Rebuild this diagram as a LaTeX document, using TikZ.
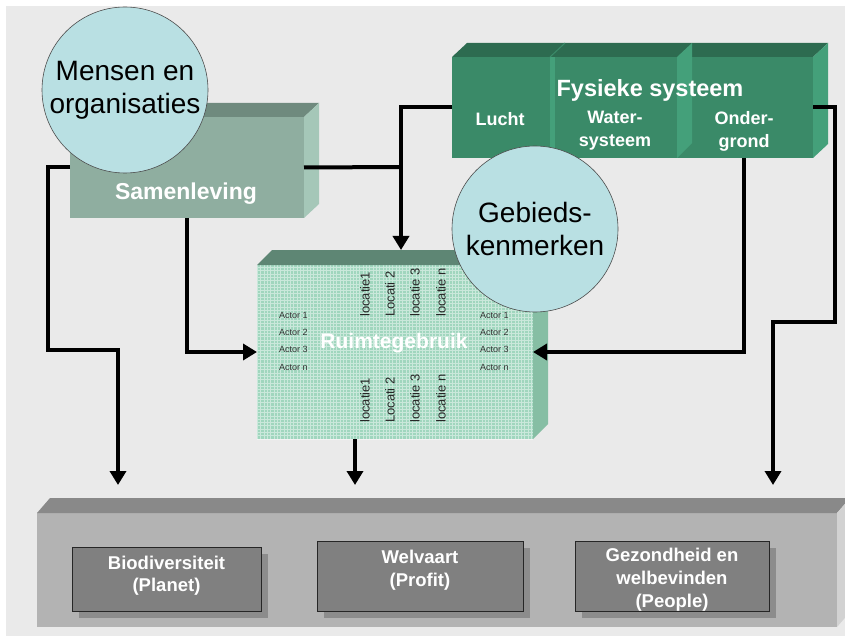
\documentclass[tikz,border=0pt]{standalone}
\usepackage{fontspec}
\setmainfont{Liberation Sans}
\usetikzlibrary{arrows.meta}
\definecolor{bgc}{RGB}{234,234,234}
\definecolor{samfront}{RGB}{143,174,160}
\definecolor{samtop}{RGB}{111,138,126}
\definecolor{samside}{RGB}{165,199,184}
\definecolor{fysfront}{RGB}{58,138,104}
\definecolor{fystop}{RGB}{45,107,80}
\definecolor{fysside}{RGB}{68,160,122}
\definecolor{rgfront}{RGB}{160,214,190}
\definecolor{rgtopc}{RGB}{94,134,116}
\definecolor{rgside}{RGB}{134,190,164}
\definecolor{panfront}{RGB}{179,179,179}
\definecolor{pantop}{RGB}{137,137,137}
\definecolor{panside}{RGB}{210,210,210}
\definecolor{boxfill}{RGB}{128,128,128}
\definecolor{boxshadow}{RGB}{140,140,140}
\definecolor{circfill}{RGB}{185,224,227}
\newcommand{\fsz}[2]{\fontsize{#1}{#2}\selectfont}
\begin{document}
\begin{tikzpicture}[x=1pt,y=-1pt,
  face/.style={inner sep=0pt, outer sep=0pt, anchor=north west},
  conn/.style={line width=4pt, line join=miter, draw=black},
  arr/.style={conn, -{Triangle[width=16pt,length=14pt]}},
  circ/.style={circle, fill=circfill, draw=black!70, line width=0.6pt, minimum size=166pt, inner sep=0pt, align=center, font=\fsz{28}{33}},
  wlabel/.style={text=white, font=\bfseries\fsz{18}{23}, align=center, inner sep=0pt},
  actor/.style={font=\fsz{9}{10}, text=black!80, inner sep=0pt, anchor=west},
  loc/.style={font=\fsz{13}{14}, text=black!85, inner sep=0pt, rotate=90, anchor=west},
  inbox/.style={face, fill=boxfill, draw=black!85, line width=1pt},
]
\useasboundingbox (0,0) rectangle (845,636);
\clip (0,0) rectangle (845,636);
\fill[white] (0,0) rectangle (845,636);
\fill[bgc] (6,6) rectangle (845,636);

% bottom panel
\node[face, fill=panfront, minimum width=800pt, minimum height=114pt] (panel) at (37,513) {};
\fill[pantop] (panel.north west) -- ++(13,-15) -- ++(800,0) -- (panel.north east) -- cycle;
\fill[panside] (panel.north east) -- ++(13,-15) -- ++(0,114) -- (panel.south east) -- cycle;

\fill[boxshadow] (79,554) rectangle (268,618);
\node[inbox, minimum width=189pt, minimum height=64pt] (bio) at (72,547) {};
\fill[boxshadow] (324,548) rectangle (530,618);
\node[inbox, minimum width=206pt, minimum height=70pt] (wel) at (317,541) {};
\fill[boxshadow] (582,548) rectangle (776,618);
\node[inbox, minimum width=194pt, minimum height=70pt] (gez) at (575,541) {};

\node[wlabel, font=\bfseries\fsz{18.5}{22}] (biot) at (166.5,576) {Biodiversiteit\\(Planet)};
\node[wlabel, font=\bfseries\fsz{18.5}{23}] (welt) at (420,570) {Welvaart\\(Profit)};
\node[wlabel, font=\bfseries\fsz{18.5}{23}] (gezt) at (672,580) {Gezondheid en\\welbevinden\\(People)};

% Samenleving
\node[face, fill=samfront, minimum width=234pt, minimum height=101pt] (sam) at (70,117) {};
\fill[samtop] (sam.north west) -- ++(15,-14) -- ++(234,0) -- (sam.north east) -- cycle;
\fill[samside] (sam.north east) -- ++(15,-14) -- ++(0,101) -- (sam.south east) -- cycle;
\node[wlabel, font=\bfseries\fsz{23}{26}] (samt) at (186,194) {Samenleving};

% Ruimtegebruik
\node[face, fill=rgfront, minimum width=276pt, minimum height=174pt] (rg) at (257,265) {};
\begin{scope}
\clip (rg.north west) rectangle (rg.south east);
\draw[white, opacity=0.45, line width=0.5pt, step=3.3pt] (rg.north west) grid (rg.south east);
\end{scope}
\fill[rgtopc] (rg.north west) -- ++(15,-15) -- ++(276,0) -- (rg.north east) -- cycle;
\fill[rgside] (rg.north east) -- ++(15,-15) -- ++(0,174) -- (rg.south east) -- cycle;
\node[wlabel, font=\bfseries\fsz{21}{24}] (rgt) at (394,343) {Ruimtegebruik};

\node[actor] (al1) at (279,315) {Actor 1};
\node[actor] (al2) at (279,332) {Actor 2};
\node[actor] (al3) at (279,349) {Actor 3};
\node[actor] (aln) at (279,367) {Actor n};
\node[actor] (ar1) at (480,315) {Actor 1};
\node[actor] (ar2) at (480,332) {Actor 2};
\node[actor] (ar3) at (480,349) {Actor 3};
\node[actor] (arn) at (480,367) {Actor n};

\node[loc] (lt1) at (365,317) {locatie1};
\node[loc] (lt2) at (390,317) {Locati 2};
\node[loc] (lt3) at (415,317) {locatie 3};
\node[loc] (ltn) at (441,317) {locatie n};
\node[loc] (lb1) at (365,423) {locatie1};
\node[loc] (lb2) at (390,423) {Locati 2};
\node[loc] (lb3) at (415,423) {locatie 3};
\node[loc] (lbn) at (441,423) {locatie n};

% Fysieke systeem
\node[face, fill=fysfront, minimum width=361pt, minimum height=101pt] (fys) at (452,57) {};
\fill[fystop] (fys.north west) -- ++(15,-14) -- ++(361,0) -- (fys.north east) -- cycle;
\fill[fysside] (fys.north east) -- ++(15,-14) -- ++(0,101) -- (fys.south east) -- cycle;
\fill[fysside] (550,57) rectangle (555,158);
\draw[fysside!60!fystop, line width=1pt] (550,57) -- (565,43);
\fill[fysside] (677,57) -- (692,43) -- (692,143) -- (677,158) -- cycle;
\node[wlabel, font=\bfseries\fsz{23.5}{26}] (fyst) at (650,90) {Fysieke systeem};
\node[wlabel] (lucht) at (500,119) {Lucht};
\node[wlabel] (water) at (615,131) {Water-\\systeem};
\node[wlabel] (ond) at (744,131) {Onder-\\grond};

% connectors
\coordinate (a1) at (48,350);
\coordinate (a2) at (118,485);
\draw[arr] (sam.west) -| (a1) -| (a2);
\draw[arr] (sam.south) |- (rg.west);
\coordinate (j) at (401,167);
\draw[conn] (sam.east) -- (j);
\coordinate (rgin) at (401,250);
\draw[arr] (fys.west) -| (rgin);
\draw[arr] (fys.south -| ond) |- (rg.east);
\coordinate (e1) at (835,322);
\coordinate (e2) at (773,485);
\draw[arr] (fys.east) -| (e1) -| (e2);
\coordinate (f2) at (355,485);
\draw[arr] (rg.south -| f2) -- (f2);

% circles
\node[circ] (mens) at (125,90) {Mensen en\\organisaties};
\node[circ] (geb) at (535,229) {Gebieds-\\kenmerken};
\end{tikzpicture}
\end{document}
